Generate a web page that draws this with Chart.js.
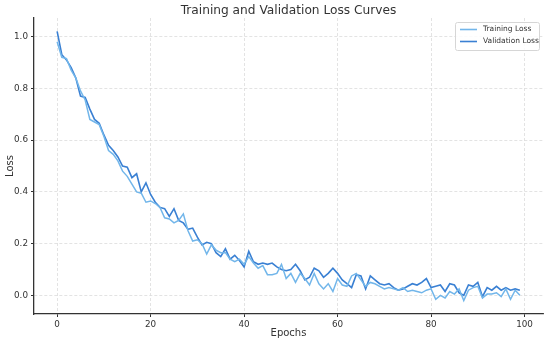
<!DOCTYPE html>
<html><head><meta charset="utf-8">
<script src="https://cdn.jsdelivr.net/npm/chart.js@4.4.0/dist/chart.umd.min.js"></script>
<style>html,body{margin:0;padding:0;background:#fff}#wrap{width:550px;height:344px}</style>
</head><body><div id="wrap"><canvas id="c" width="550" height="344"></canvas></div>
<script>
const epochs = Array.from({length:100},(_,i)=>i);
const trainingLoss = [0.98,0.92,0.915,0.87,0.84,0.79,0.755,0.68,0.67,0.66,
0.615,0.56,0.545,0.52,0.48,0.46,0.43,0.40,0.395,0.36,
0.365,0.355,0.34,0.30,0.295,0.28,0.29,0.315,0.25,0.21,
0.215,0.20,0.16,0.195,0.175,0.165,0.165,0.14,0.13,0.14,
0.12,0.15,0.125,0.105,0.115,0.08,0.08,0.085,0.12,0.065,
0.085,0.05,0.085,0.065,0.04,0.085,0.045,0.025,0.045,0.015,
0.065,0.04,0.035,0.075,0.085,0.06,0.035,0.05,0.045,0.035,
0.025,0.03,0.025,0.02,0.03,0.015,0.02,0.015,0.01,0.02,
0.025,-0.015,0.0,-0.01,0.015,0.005,0.025,-0.02,0.02,0.03,
0.035,-0.01,0.005,0.005,0.01,-0.005,0.025,-0.015,0.02,0.0];
const validationLoss = [1.02,0.93,0.91,0.88,0.84,0.77,0.765,0.72,0.68,0.665,
0.62,0.58,0.56,0.535,0.50,0.495,0.455,0.47,0.40,0.435,
0.39,0.36,0.34,0.335,0.305,0.335,0.29,0.28,0.255,0.26,
0.225,0.195,0.205,0.20,0.165,0.15,0.18,0.14,0.155,0.135,
0.11,0.17,0.13,0.12,0.125,0.12,0.125,0.11,0.10,0.095,
0.10,0.12,0.095,0.06,0.07,0.105,0.095,0.07,0.085,0.105,
0.085,0.06,0.045,0.03,0.08,0.075,0.025,0.075,0.06,0.045,
0.04,0.045,0.03,0.02,0.025,0.035,0.045,0.04,0.05,0.065,
0.03,0.035,0.04,0.015,0.045,0.04,0.01,0.0,0.04,0.035,
0.05,-0.005,0.03,0.02,0.035,0.02,0.03,0.02,0.025,0.02];
const xTicks = [0,20,40,60,80,100];
const yTicks = [0.0,0.2,0.4,0.6,0.8,1.0];
const seriesNames = ['Training Loss','Validation Loss'];
const colors = ['#72b6ea','#3a80d3'];
const FONT = "'DejaVu Sans', sans-serif";

const overlay = {
  id:'overlay',
  afterDraw(chart){
    const ctx = chart.ctx, a = chart.chartArea;
    ctx.save();
    ctx.fillStyle = '#333';
    ctx.font = "12.2px " + FONT;
    ctx.textAlign='center'; ctx.textBaseline='middle';
    ctx.fillText('Training and Validation Loss Curves', (a.left+a.right)/2, 11);
    ctx.font = "10px " + FONT;
    ctx.fillText('Epochs', (a.left+a.right)/2, 333);
    ctx.translate(10,(a.top+a.bottom)/2); ctx.rotate(-Math.PI/2);
    ctx.fillText('Loss',0,0);
    ctx.restore();
    // legend
    ctx.save();
    const bx=455, by=22, bw=84, bh=28;
    ctx.fillStyle='rgba(255,255,255,0.85)';
    ctx.strokeStyle='#d6d6d6'; ctx.lineWidth=1;
    ctx.beginPath(); ctx.roundRect(bx+0.5,by+0.5,bw,bh,2); ctx.fill(); ctx.stroke();
    ctx.font="7.5px "+FONT; ctx.textBaseline='middle'; ctx.textAlign='left';
    seriesNames.forEach((n,i)=>{
      const y = by+7.5+i*12;
      ctx.strokeStyle=colors[i]; ctx.lineWidth=1.6;
      ctx.beginPath(); ctx.moveTo(bx+5,y); ctx.lineTo(bx+22,y); ctx.stroke();
      ctx.fillStyle='#333'; ctx.fillText(n,bx+28,y);
    });
    ctx.restore();
  }
};

new Chart(document.getElementById('c'),{
  type:'line',
  data:{datasets:[
    {label:seriesNames[0],data:epochs.map((e,i)=>({x:e,y:trainingLoss[i]})),borderColor:colors[0],borderWidth:1.5,pointRadius:0,tension:0,fill:false},
    {label:seriesNames[1],data:epochs.map((e,i)=>({x:e,y:validationLoss[i]})),borderColor:colors[1],borderWidth:1.6,pointRadius:0,tension:0,fill:false}
  ]},
  options:{
    responsive:false, animation:false, devicePixelRatio:1,
    layout:{padding:{left:0,right:7,top:18,bottom:0}},
    plugins:{legend:{display:false},title:{display:false},tooltip:{enabled:false}},
    scales:{
      x:{type:'linear',min:-4.95,max:103.95,
        afterBuildTicks(s){s.ticks=xTicks.map(v=>({value:v}));},
        afterFit(s){s.height=30;},
        ticks:{font:{family:FONT,size:8.8},color:'#333',padding:2,maxRotation:0,callback:v=>String(v)},
        grid:{color:'#dcdcdc',lineWidth:0.8,tickLength:3,tickColor:'#333',tickWidth:1},
        border:{display:true,color:'#333',width:1.3,dash:[3,2]}
      },
      y:{type:'linear',min:-0.072,max:1.072,
        afterBuildTicks(s){s.ticks=yTicks.map(v=>({value:v}));},
        afterFit(s){s.width=34;},
        ticks:{font:{family:FONT,size:8.8},color:'#333',padding:3,callback:v=>v.toFixed(1)},
        grid:{color:'#dcdcdc',lineWidth:0.8,tickLength:3,tickColor:'#333',tickWidth:1},
        border:{display:true,color:'#333',width:1.3,dash:[3,2]}
      }
    }
  },
  plugins:[overlay]
});
</script></body></html>
